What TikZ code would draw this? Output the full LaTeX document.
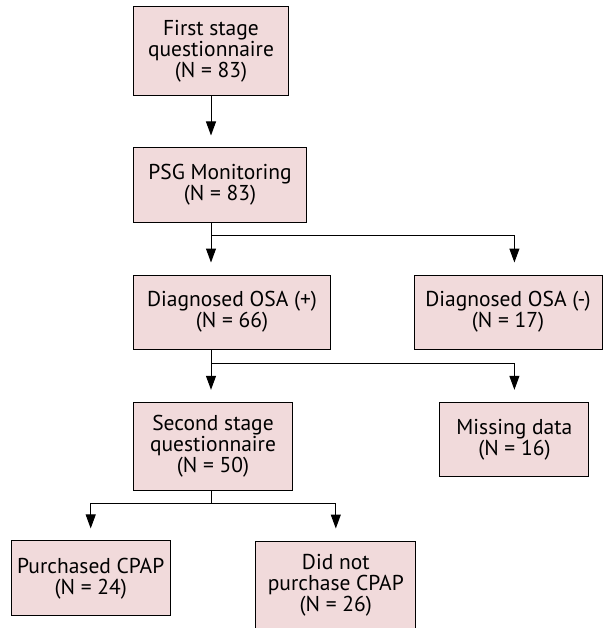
\documentclass[tikz,border=0pt]{standalone}
\usepackage{fontspec}
\setmainfont{PT Sans}
\usetikzlibrary{arrows.meta}
\definecolor{boxpink}{RGB}{241,218,219}

\begin{document}
\begin{tikzpicture}[x=1pt,y=-1pt,
    box/.style={draw,fill=boxpink,line width=1pt,align=center,inner sep=0pt,
      font=\fontsize{21.5}{21}\selectfont},
    flow/.style={line width=1pt,-{Triangle[length=14pt,width=10pt]},shorten >=12pt}]
  \useasboundingbox (0,0) rectangle (603,628);
  % Boxes
  % -- main column
  \node[box,minimum width=155pt,minimum height=89pt] (first) at (211,51.5)
    {First stage\\questionnaire\\(N = 83)};
  \node[box,minimum width=173pt,minimum height=74pt] (psg) at (220,185)
    {PSG Monitoring\\(N = 83)};
  \node[box,minimum width=197pt,minimum height=74pt] (osapos) at (232,312)
    {Diagnosed OSA (+)\\(N = 66)};
  \node[box,minimum width=159.5pt,minimum height=88pt] (second) at (213,446.3)
    {Second stage\\questionnaire\\(N = 50)};
  % -- right column
  \node[box,minimum width=188pt,minimum height=74pt] (osaneg) at (508,312)
    {Diagnosed OSA (-)\\(N = 17)};
  \node[box,minimum width=149pt,minimum height=74.4pt] (missing) at (514.4,439.5)
    {Missing data\\(N = 16)};
  % -- bottom row
  \node[box,minimum width=159.4pt,minimum height=74.7pt] (purchased) at (90.7,578.3)
    {Purchased CPAP\\(N = 24)};
  \node[box,minimum width=160pt,minimum height=88pt] (didnot) at (335.8,585)
    {Did not\\purchase CPAP\\(N = 26)};
  % Connectors
  \coordinate (trunk) at (211,0);
  \coordinate (split1) at ([yshift=-13pt]psg.south -| trunk);
  \coordinate (split2) at ([yshift=-13.7pt]osapos.south -| trunk);
  \coordinate (split3) at ([yshift=-13pt]second.south -| trunk);
  \draw[flow] (first.south -| trunk) -- (psg.north -| trunk);
  \draw[line width=1pt] (psg.south -| trunk) -- (split1);
  \draw[flow] (split1) -- (osapos.north -| trunk);
  \draw[flow] (split1) -| (osaneg.north -| missing.north);
  \draw[line width=1pt] (osapos.south -| trunk) -- (split2);
  \draw[flow] (split2) -- (second.north -| trunk);
  \draw[flow] (split2) -| (missing.north);
  \draw[line width=1pt] (second.south -| trunk) -- (split3);
  \draw[flow] (split3) -| (purchased.north);
  \draw[flow] (split3) -| (didnot.north);
\end{tikzpicture}
\end{document}
